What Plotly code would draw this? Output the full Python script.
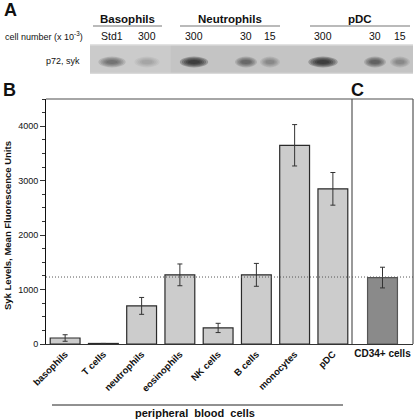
import plotly.graph_objects as go

# ---------------- data ----------------
categories = ["basophils", "T cells", "neutrophils", "eosinophils", "NK cells",
              "B cells", "monocytes", "pDC"]
syk_levels = [110, 10, 700, 1270, 295, 1270, 3650, 2850]
syk_err = [60, 0, 155, 200, 85, 210, 380, 300]

cd34_category = ["CD34+ cells"]
cd34_level = [1220]
cd34_err = [190]

reference_level = 1230

y_ticks = [0, 1000, 2000, 3000, 4000]

# western blot (panel A)
blot_groups = ["Basophils", "Neutrophils", "pDC"]
lane_labels = ["Std1", "300", "300", "30", "15", "300", "30", "15"]
band_intensity = [0.5, 0.18, 1.0, 0.55, 0.32, 1.0, 0.6, 0.32]

# ---------------- layout helpers (positions / styles) ----------------
W, H = 414, 419
ML, MR, MT, MB = 46, 1, 0, 75
PW, PH = W - ML - MR, H - MT - MB


def xp(px):
    return (px - ML) / PW


def yp(py):
    return (PH + MT - py) / PH


lane_x = [112, 147, 194, 246, 270, 323, 375, 400]
band_w = [26, 24, 27, 21, 19, 28, 21, 19]
group_span = [(93, 162), (180, 280), (310, 410)]

FONT = "Liberation Sans, Arial, Helvetica, sans-serif"
DIV = xp(352)
YTOP = yp(99)

fig = go.Figure()

fig.add_trace(go.Bar(
    x=categories, y=syk_levels,
    error_y=dict(type="data", array=syk_err, color="#333333", thickness=1, width=2.5),
    marker=dict(color="#cccccc", line=dict(color="#2a2a2a", width=1.2)),
    xaxis="x", yaxis="y", showlegend=False,
))
fig.add_trace(go.Bar(
    x=cd34_category, y=cd34_level, width=0.49,
    error_y=dict(type="data", array=cd34_err, color="#333333", thickness=1, width=2.5),
    marker=dict(color="#8a8a8a", line=dict(color="#555555", width=1.2)),
    xaxis="x2", yaxis="y2", showlegend=False,
))

fig.update_layout(
    width=W, height=H,
    margin=dict(l=ML, r=MR, t=MT, b=MB),
    plot_bgcolor="white", paper_bgcolor="white",
    font=dict(family=FONT, color="#111111"),
    bargap=0.22,
    xaxis=dict(domain=[0, DIV], showline=True, linecolor="#333333", linewidth=1,
               ticks="", tickangle=-45,
               tickfont=dict(size=9.5, family=FONT, weight="bold"),
               anchor="y"),
    yaxis=dict(domain=[0, YTOP], range=[0, 4500], showline=True, linecolor="#111111",
               linewidth=1, ticks="outside", ticklen=5, tickcolor="#333333",
               tickvals=y_ticks, tickfont=dict(size=9, family=FONT),
               showgrid=False, zeroline=False,
               minor=dict(dtick=250, ticks="outside", ticklen=3, tickcolor="#333333"),
               anchor="x"),
    xaxis2=dict(domain=[DIV, 1], showline=True, linecolor="#333333", linewidth=1,
                ticks="", tickangle=0,
                tickfont=dict(size=10, family=FONT, weight="bold"), anchor="y2"),
    yaxis2=dict(domain=[0, YTOP], matches="y", visible=False, anchor="x2"),
    xaxis3=dict(domain=[xp(90), 1], range=[90, 413], visible=False, anchor="y3"),
    yaxis3=dict(domain=[yp(74), yp(44)], range=[0, 1], visible=False, anchor="x3"),
)

shapes = []
# frame lines
shapes.append(dict(type="line", xref="paper", yref="paper", x0=0, x1=1, y0=YTOP, y1=YTOP,
                   line=dict(color="#888888", width=1.5)))
shapes.append(dict(type="line", xref="paper", yref="paper", x0=1, x1=1, y0=0, y1=YTOP,
                   line=dict(color="#555555", width=1.2)))
shapes.append(dict(type="line", xref="paper", yref="paper", x0=DIV, x1=DIV, y0=0, y1=YTOP,
                   line=dict(color="#555555", width=1.2)))
# reference dotted line
shapes.append(dict(type="line", xref="paper", yref="y", x0=0, x1=1,
                   y0=reference_level, y1=reference_level,
                   line=dict(color="#555555", width=1, dash="1px,2px"), layer="above"))
# peripheral blood underline
shapes.append(dict(type="line", xref="paper", yref="paper", x0=xp(52), x1=xp(343),
                   y0=yp(405), y1=yp(405), line=dict(color="#222222", width=1)))

# gel background
shapes.append(dict(type="rect", xref="x3 domain", yref="y3 domain", x0=0, x1=1, y0=0, y1=1,
                   fillcolor="#c4c4c4", line=dict(width=0), layer="below"))
shapes.append(dict(type="rect", xref="x3 domain", yref="y3 domain", x0=0, x1=0.25, y0=0, y1=1,
                   fillcolor="#cbcbcb", line=dict(width=0), layer="below"))
shapes.append(dict(type="rect", xref="x3 domain", yref="y3 domain", x0=0, x1=1, y0=0.95, y1=1,
                   fillcolor="#e2e2e2", line=dict(width=0), layer="below"))
shapes.append(dict(type="rect", xref="x3 domain", yref="y3 domain", x0=0, x1=1, y0=0, y1=0.04,
                   fillcolor="#dadada", line=dict(width=0), layer="below"))
# bands
for lx, bw, inten in zip(lane_x, band_w, band_intensity):
    for k in range(5):
        sw = bw * (1.05 - 0.15 * k)
        sh = 0.36 * (1 - 0.16 * k)
        shapes.append(dict(type="circle", xref="x3", yref="y3",
                           x0=lx - sw / 2, x1=lx + sw / 2,
                           y0=0.4 - sh / 2, y1=0.4 + sh / 2,
                           fillcolor="#151515", opacity=0.25 * inten,
                           line=dict(width=0)))
# group underlines
for (a, b) in group_span:
    shapes.append(dict(type="line", xref="paper", yref="paper", x0=xp(a), x1=xp(b),
                       y0=yp(26), y1=yp(26), line=dict(color="#777777", width=1.2)))
fig.update_layout(shapes=shapes)

ann = []
# panel letters
ann.append(dict(text="<b>A</b>", x=xp(2), y=yp(10), xref="paper", yref="paper",
                xanchor="left", yanchor="middle", showarrow=False, font=dict(size=18)))
ann.append(dict(text="<b>B</b>", x=xp(1), y=yp(90), xref="paper", yref="paper",
                xanchor="left", yanchor="middle", showarrow=False, font=dict(size=18)))
ann.append(dict(text="<b>C</b>", x=xp(357), y=yp(90), xref="paper", yref="paper",
                xanchor="center", yanchor="middle", showarrow=False, font=dict(size=18)))
# blot texts
for name, (a, b) in zip(blot_groups, group_span):
    ann.append(dict(text="<b>" + name + "</b>", x=xp((a + b) / 2), y=yp(19), xref="paper",
                    yref="paper", xanchor="center", yanchor="middle", showarrow=False,
                    font=dict(size=11.5)))
ann.append(dict(text="cell number (x 10<sup>-3</sup>)", x=xp(3), y=yp(36), xref="paper",
                yref="paper", xanchor="left", yanchor="middle", showarrow=False,
                font=dict(size=9)))
for lx, lab in zip(lane_x, lane_labels):
    ann.append(dict(text=lab, x=xp(lx), y=yp(36), xref="paper", yref="paper",
                    xanchor="center", yanchor="middle", showarrow=False,
                    font=dict(size=10.5)))
ann.append(dict(text="p72, syk", x=xp(82), y=yp(61), xref="paper", yref="paper",
                xanchor="right", yanchor="middle", showarrow=False, font=dict(size=9)))
# y title
ann.append(dict(text="<b>Syk Levels, Mean Fluorescence Units</b>", x=xp(7), y=yp(226),
                xref="paper", yref="paper", xanchor="center", yanchor="middle",
                textangle=-90, showarrow=False, font=dict(size=9.5)))
ann.append(dict(text="<b>peripheral  blood  cells</b>", x=xp(195), y=yp(413), xref="paper",
                yref="paper", xanchor="center", yanchor="middle", showarrow=False,
                font=dict(size=11)))
fig.update_layout(annotations=ann)

fig.write_html("out.html", config={"displayModeBar": False},
               post_script="document.body.style.margin='0';document.body.style.padding='0';")
